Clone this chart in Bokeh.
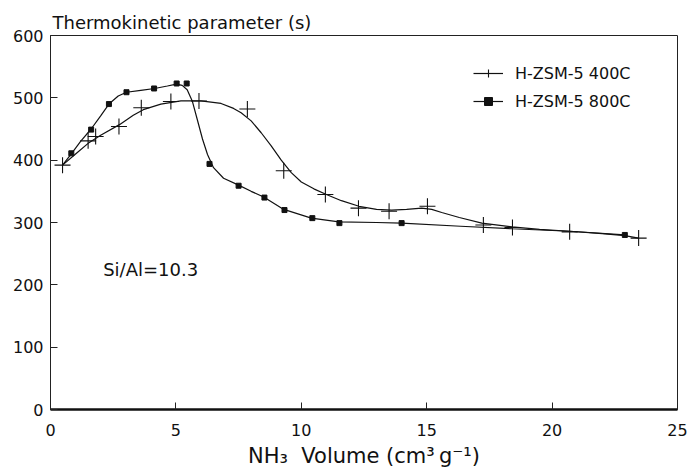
from bokeh.plotting import figure
from bokeh.models import Range1d, FixedTicker, Label, Legend, LegendItem
from bokeh.embed import file_html
from bokeh.resources import INLINE

# Measured points
x400 = [0.48, 1.5, 1.8, 2.73, 3.62, 4.8, 5.92, 7.85, 9.3, 10.96, 12.28, 13.5, 15.03, 17.26, 18.42, 20.7, 23.45]
y400 = [392, 431, 438, 454, 484, 494, 495, 482, 383, 345, 323, 318, 326, 296, 292, 285, 275]
x800 = [0.83, 1.62, 2.33, 3.03, 4.13, 5.03, 5.43, 6.34, 7.5, 8.53, 9.33, 10.44, 11.52, 14.0, 22.9]
y800 = [411, 449, 490, 509, 515, 523, 523, 394, 359, 340, 320, 307, 299, 299, 280]

# Fitted curves
fit400_x = [0.48, 1.0, 1.5, 2.0, 2.75, 3.3, 3.7, 4.4, 5.2, 6.0, 6.8, 7.3, 7.6, 8.0, 8.4, 8.8, 9.2, 9.6,
            10.0, 10.5, 11.0, 11.6, 12.3, 13.0, 13.6, 14.2, 14.8, 15.2, 15.6, 16.3, 17.2, 18.4, 19.5,
            20.7, 22.0, 22.9, 23.45]
fit400_y = [392, 410, 427, 440, 457, 472, 481, 490, 495, 495, 491, 483, 476, 463, 444, 423, 400, 380,
            365, 354, 345, 335, 326, 321, 320, 321, 323, 321, 316, 308, 299, 293, 289,
            286, 282, 279, 275]
fit800_x = [0.48, 0.83, 1.2, 1.62, 2.0, 2.33, 2.7, 3.03, 3.6, 4.15, 4.66, 5.02, 5.25, 5.45, 5.66, 5.86,
            6.06, 6.26, 6.5, 6.9, 7.5, 8.0, 8.5, 9.3, 10.4, 11.5, 13.0, 14.0, 16.35, 18.4, 20.7, 22.9]
fit800_y = [392, 410, 430, 450, 471, 490, 503, 509, 512, 515, 519, 522, 520, 513, 494, 464,
            434, 409, 388, 371, 360, 350, 341, 321, 307, 301, 300, 299, 294, 290, 286, 280]

series_names = ["H-ZSM-5 400C", "H-ZSM-5 800C"]
x_ticks = [0, 5, 10, 15, 20, 25]
y_ticks = [0, 100, 200, 300, 400, 500, 600]

FONT = "DejaVu Sans"

p = figure(width=690, height=470, output_backend="svg", toolbar_location=None,
           x_range=Range1d(0, 25), y_range=Range1d(0, 600),
           min_border_left=50, min_border_right=13, min_border_top=35, min_border_bottom=10,
           background_fill_color="white", border_fill_color="white")
p.xgrid.visible = False
p.ygrid.visible = False
p.outline_line_color = "#222222"
p.outline_line_width = 1

p.title.text = "Thermokinetic parameter (s)"
p.title.align = "left"
p.title.offset = 2
p.title.text_font = FONT
p.title.text_font_size = "18px"
p.title.text_font_style = "normal"
p.title.text_color = "#111111"
p.title.standoff = 6

p.xaxis.ticker = FixedTicker(ticks=x_ticks)
p.yaxis.ticker = FixedTicker(ticks=y_ticks)
for ax in (p.xaxis[0], p.yaxis[0]):
    ax.major_tick_in = 7
    ax.major_tick_out = 0
    ax.minor_tick_line_color = None
    ax.major_label_text_font = FONT
    ax.major_label_text_font_size = "16px"
    ax.major_label_text_color = "#111111"
    ax.major_tick_line_color = "#222222"
p.xaxis.axis_line_width = 2.5
p.xaxis.axis_line_color = "#111111"
p.yaxis.axis_line_color = "#222222"
p.xaxis.major_label_standoff = 14
p.yaxis.major_label_standoff = 7

p.xaxis.axis_label = "NH\u2083\u00a0\u00a0Volume (cm\u00b3\u2009g\u207b\u00b9)"
p.xaxis.axis_label_text_font = FONT
p.xaxis.axis_label_text_font_size = "21px"
p.xaxis.axis_label_text_font_style = "normal"
p.xaxis.axis_label_text_color = "#111111"
p.xaxis.axis_label_standoff = 5

l1 = p.line(fit400_x, fit400_y, line_color="#111111", line_width=1.2)
s1 = p.scatter(x400, y400, marker="cross", size=16, line_color="#111111", line_width=1.1)
l2 = p.line(fit800_x, fit800_y, line_color="#111111", line_width=1.2)
s2 = p.scatter(x800, y800, marker="square", size=5, line_color="#111111", fill_color="#111111")

legend = Legend(items=[LegendItem(label=series_names[0], renderers=[l1, s1]),
                       LegendItem(label=series_names[1], renderers=[l2, s2])],
                location=(423, 298), padding=0, margin=0, spacing=8,
                glyph_width=30, glyph_height=20, label_height=20, label_standoff=12,
                border_line_color=None, background_fill_alpha=0,
                label_text_font=FONT, label_text_font_size="16px", label_text_color="#111111")
p.add_layout(legend)

p.add_layout(Label(x=2.1, y=224, text="Si/Al=10.3",
                   text_font=FONT, text_font_size="18px", text_color="#111111",
                   text_baseline="middle"))

open("out.html", "w").write(file_html(p, INLINE))
